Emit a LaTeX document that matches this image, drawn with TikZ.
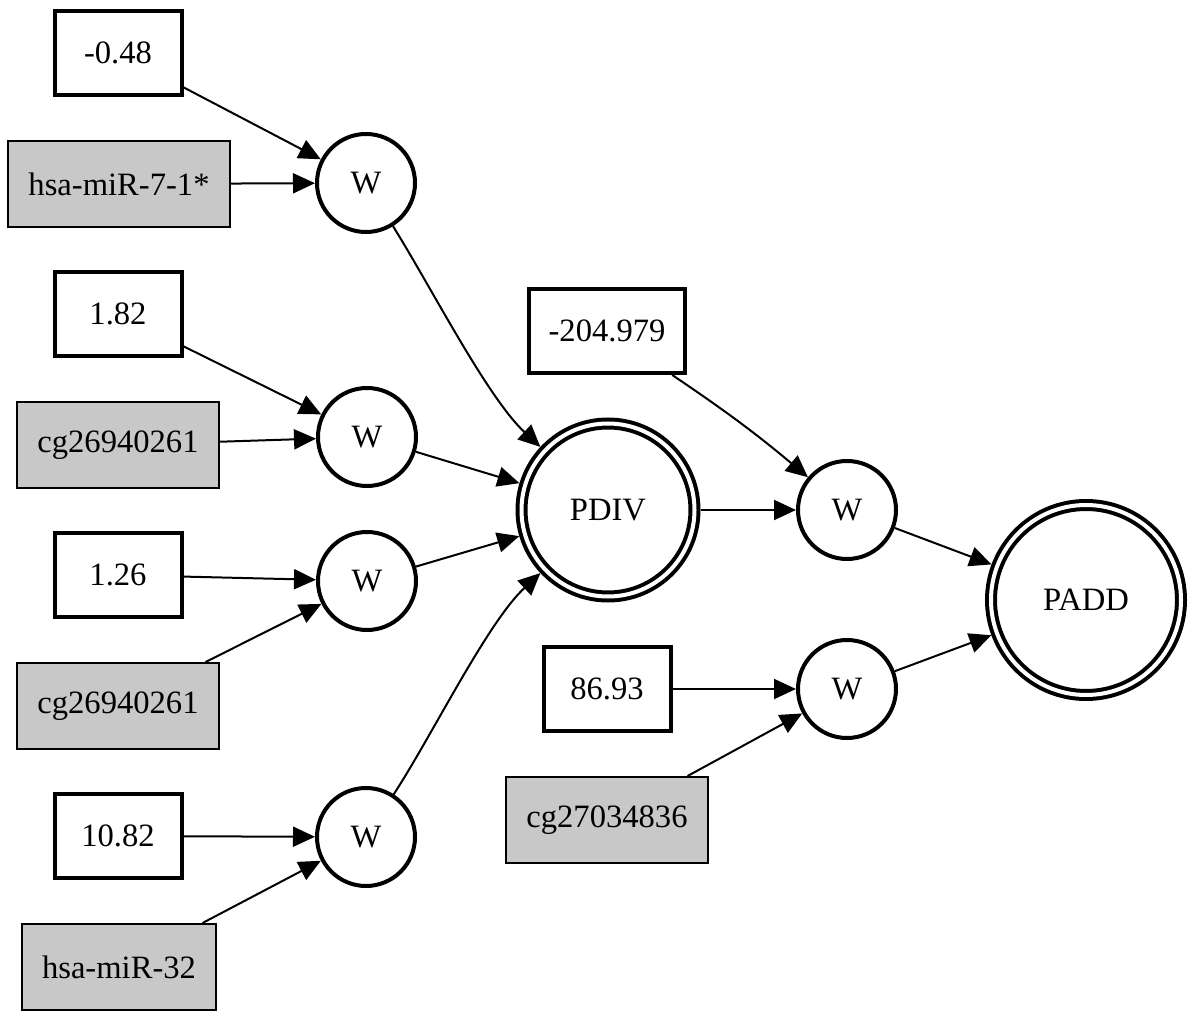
\documentclass[tikz,border=0pt]{standalone}
\usepackage{fontspec}
\setmainfont{Liberation Serif}
\usetikzlibrary{arrows.meta}
\definecolor{boxgray}{RGB}{200,200,200}

\begin{document}
\begin{tikzpicture}[x=0.5pt,y=0.5pt,
    every node/.style={font=\fontsize{16.3}{19}\selectfont},
    const/.style={draw,rectangle,line width=2pt,minimum width=63.5pt,minimum height=42pt,inner xsep=10pt},
    var/.style={draw,rectangle,fill=boxgray,line width=1pt,minimum width=63.5pt,minimum height=43pt,inner xsep=10pt},
    wnode/.style={draw,circle,line width=2pt,minimum size=49pt,inner sep=0pt},
    op/.style={draw,circle,double,line width=2pt,double distance=2pt,inner sep=0pt,outer sep=3pt},
    link/.style={-{Triangle[length=11pt,width=10pt]},line width=1pt}]
    \useasboundingbox (0,0) rectangle (1200,-1021);
    % left column
    \node[const] (k1) at (118,-53) {-0.48};
    \node[var] (v1) at (119,-184) {hsa-miR-7-1*};
    \node[wnode] (w1) at (366,-183) {W};
    \node[const] (k2) at (118,-314) {1.82};
    \node[var] (v2) at (118,-445) {cg26940261};
    \node[wnode] (w2) at (367,-437) {W};
    \node[const] (k3) at (118,-575) {1.26};
    \node[var] (v3) at (118,-706) {cg26940261};
    \node[wnode] (w3) at (367,-581) {W};
    \node[const] (k4) at (118,-836) {10.82};
    \node[var] (v4) at (119,-967) {hsa-miR-32};
    \node[wnode] (w4) at (366,-837) {W};
    % middle and right
    \node[op,minimum size=86.5pt] (pdiv) at (608,-510) {PDIV};
    \node[const] (k5) at (607,-331) {-204.979};
    \node[wnode] (w5) at (847,-510) {W};
    \node[const] (k6) at (607,-689) {86.93};
    \node[var] (v6) at (607,-820) {cg27034836};
    \node[wnode] (w6) at (847,-689) {W};
    \node[op,minimum size=95pt] (padd) at (1086,-600) {PADD};
    % edges
    \draw[link] (k1) -- (w1);
    \draw[link] (v1) -- (w1);
    \draw[link] (k2) -- (w2);
    \draw[link] (v2) -- (w2);
    \draw[link] (k3) -- (w3);
    \draw[link] (v3) -- (w3);
    \draw[link] (k4) -- (w4);
    \draw[link] (v4) -- (w4);
    \draw[link] (w1) to[out=-58,in=137,looseness=0.7] (pdiv);
    \draw[link] (w2) -- (pdiv);
    \draw[link] (w3) -- (pdiv);
    \draw[link] (w4) to[out=57,in=-137,looseness=0.7] (pdiv);
    \draw[link] (k5) to[out=-34,in=140] (w5);
    \draw[link] (pdiv) -- (w5);
    \draw[link] (k6) -- (w6);
    \draw[link] (v6) -- (w6);
    \draw[link] (w5) -- (padd);
    \draw[link] (w6) -- (padd);
\end{tikzpicture}
\end{document}
